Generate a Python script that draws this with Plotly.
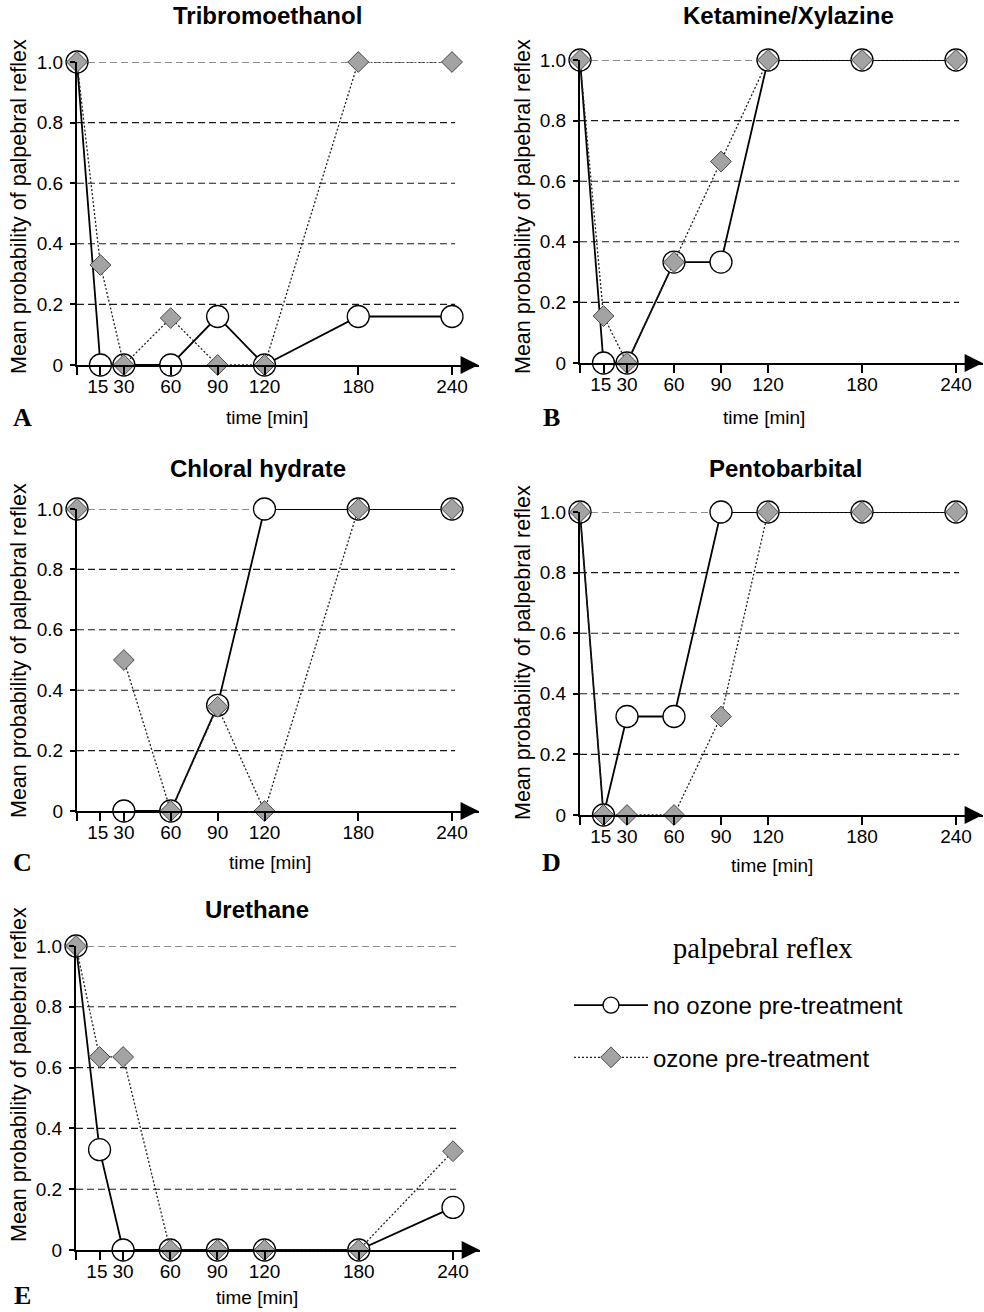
import plotly.graph_objects as go

# ---------------- data ----------------
time_min = [0, 15, 30, 60, 90, 120, 180, 240]
tick_labels_x = ["", "15\u00a0", "30", "60", "90", "120", "180", "240"]
y_ticks = [0, 0.2, 0.4, 0.6, 0.8, 1.0]
y_tick_labels = ["0", "0.2", "0.4", "0.6", "0.8", "1.0"]

tribromo_no = [1.0, 0.0, 0.0, 0.0, 0.16, 0.0, 0.16, 0.16]
tribromo_oz = [1.0, 0.33, 0.0, 0.155, 0.0, 0.0, 1.0, 1.0]
ketamine_no = [1.0, 0.0, 0.0, 0.333, 0.333, 1.0, 1.0, 1.0]
ketamine_oz = [1.0, 0.155, 0.0, 0.333, 0.665, 1.0, 1.0, 1.0]
chloral_no = [1.0, None, 0.0, 0.0, 0.35, 1.0, 1.0, 1.0]
chloral_oz = [1.0, None, 0.5, 0.0, 0.345, 0.0, 1.0, 1.0]
pento_no = [1.0, 0.0, 0.325, 0.325, 1.0, 1.0, 1.0, 1.0]
pento_oz = [1.0, 0.0, 0.0, 0.0, 0.325, 1.0, 1.0, 1.0]
urethane_no = [1.0, 0.33, 0.0, 0.0, 0.0, 0.0, 0.0, 0.14]
urethane_oz = [1.0, 0.635, 0.635, 0.0, 0.0, 0.0, 0.0, 0.325]

titles = ["Tribromoethanol", "Ketamine/Xylazine", "Chloral hydrate", "Pentobarbital", "Urethane"]
letters = ["A", "B", "C", "D", "E"]
series_no = [tribromo_no, ketamine_no, chloral_no, pento_no, urethane_no]
series_oz = [tribromo_oz, ketamine_oz, chloral_oz, pento_oz, urethane_oz]
name_no = "no ozone pre-treatment"
name_oz = "ozone pre-treatment"
y_title = "Mean probability of palpebral reflex"
x_title = "time [min]"
legend_title = "palpebral reflex"

# ---------------- layout geometry (pixels) ----------------
W, H = 984, 1312
X_MAX = 257
GRID_END = 242
# (x of y-axis, x of t=240, y of 0, y of 1.0)
geom = [
    (77, 452, 365, 62),
    (580, 956, 363, 60),
    (77, 452, 811, 509),
    (580, 956, 815, 512),
    (76, 453, 1250, 946),
]
title_pos = [(267, 15), (788, 15), (258, 468), (785, 468), (257, 909)]
xtitle_pos = [(267, 417), (764, 417), (270, 863), (772, 865), (257, 1297)]
ytitle_pos = [(19, 207), (523, 207), (19, 651), (523, 653), (19, 1075)]
letter_pos = [(22, 417), (551, 417), (22, 863), (551, 863), (22, 1295)]

FONT = "Liberation Sans, Arial, sans-serif"
SERIF = "Liberation Serif, Times New Roman, serif"


def px(p):
    return p / W


def py(p):
    return 1 - p / H


fig = go.Figure()
layout = dict(
    width=W, height=H,
    margin=dict(l=0, r=0, t=0, b=0),
    paper_bgcolor="white", plot_bgcolor="white",
    font=dict(family=FONT, color="black"),
    shapes=[], annotations=[],
)

for i in range(5):
    k = i + 1
    xs = "x" if k == 1 else f"x{k}"
    ys = "y" if k == 1 else f"y{k}"
    x0, x240, y0, y1 = geom[i]
    xend = x0 + (x240 - x0) * X_MAX / 240.0
    layout[f"xaxis{'' if k == 1 else k}"] = dict(
        domain=[px(x0), px(xend)], range=[0, X_MAX], anchor=ys,
        showline=True, linecolor="black", linewidth=2,
        ticks="outside", ticklen=8, tickwidth=1.5, tickcolor="black",
        tickvals=time_min, ticktext=tick_labels_x, tickangle=0,
        ticklabelstandoff=-5,
        tickfont=dict(size=19, family=FONT, color="black"),
        showgrid=False, zeroline=False, fixedrange=True, automargin=False,
    )
    layout[f"yaxis{'' if k == 1 else k}"] = dict(
        domain=[py(y0), py(y1)], range=[0, 1], anchor=xs,
        showline=True, linecolor="black", linewidth=2,
        ticks="outside", ticklen=5, tickwidth=1.5, tickcolor="black",
        tickvals=y_ticks, ticktext=y_tick_labels, tickangle=0,
        ticklabelstandoff=3,
        tickfont=dict(size=19, family=FONT, color="black"),
        showgrid=False, zeroline=False, fixedrange=True, automargin=False,
    )

    for v in y_ticks[1:]:
        layout["shapes"].append(dict(
            type="line", xref=xs, yref=ys, x0=0, x1=GRID_END, y0=v, y1=v,
            line=dict(color="#1a1a1a", width=1.1, dash="7px,4px"), layer="below",
        ))

    # arrow head at the end of the x axis
    layout["annotations"].append(dict(
        x=X_MAX, y=0, xref=xs, yref=ys, ax=X_MAX - 12, ay=0, axref=xs, ayref=ys,
        text="", showarrow=True, arrowhead=2, arrowsize=1.8, arrowwidth=2,
        arrowcolor="black", standoff=0,
    ))

    fig.add_trace(go.Scatter(
        x=time_min, y=series_no[i], xaxis=xs, yaxis=ys, name=name_no,
        mode="lines+markers", cliponaxis=False, connectgaps=False,
        line=dict(color="black", width=1.8),
        marker=dict(symbol="circle", size=22, color="white", line=dict(color="black", width=1.3)),
        showlegend=(i == 0), legendgroup="no",
    ))
    fig.add_trace(go.Scatter(
        x=time_min, y=series_oz[i], xaxis=xs, yaxis=ys, name=name_oz,
        mode="lines+markers", cliponaxis=False, connectgaps=False,
        line=dict(color="#222222", width=1.3, dash="2px,2px"),
        marker=dict(symbol="diamond", size=16, color="#a3a3a3", line=dict(color="#4a4a4a", width=1)),
        showlegend=(i == 0), legendgroup="oz",
    ))

    tx, ty = title_pos[i]
    layout["annotations"].append(dict(
        x=px(tx), y=py(ty), xref="paper", yref="paper", xanchor="center", yanchor="middle",
        text=f"<b>{titles[i]}</b>", showarrow=False, font=dict(size=24, family=FONT, color="black"),
    ))
    tx, ty = xtitle_pos[i]
    layout["annotations"].append(dict(
        x=px(tx), y=py(ty), xref="paper", yref="paper", xanchor="center", yanchor="middle",
        text=x_title, showarrow=False, font=dict(size=19, family=FONT, color="black"),
    ))
    tx, ty = ytitle_pos[i]
    layout["annotations"].append(dict(
        x=px(tx), y=py(ty), xref="paper", yref="paper", xanchor="center", yanchor="middle",
        text=y_title, textangle=-90, showarrow=False, font=dict(size=21.5, family=FONT, color="black"),
    ))
    tx, ty = letter_pos[i]
    layout["annotations"].append(dict(
        x=px(tx), y=py(ty), xref="paper", yref="paper", xanchor="center", yanchor="middle",
        text=f"<b>{letters[i]}</b>", showarrow=False, font=dict(size=26, family=SERIF, color="black"),
    ))

# legend heading
layout["annotations"].append(dict(
    x=px(763), y=py(948), xref="paper", yref="paper", xanchor="center", yanchor="middle",
    text=legend_title, showarrow=False, font=dict(size=28.5, family=SERIF, color="black"),
))

layout["legend"] = dict(
    x=px(569), y=py(983), xanchor="left", yanchor="top",
    font=dict(family=FONT, size=24, color="black"),
    traceorder="grouped", tracegroupgap=18, itemwidth=74,
    bgcolor="rgba(0,0,0,0)",
)

fig.update_layout(**layout)
fig.write_html(
    "out.html",
    config={"displayModeBar": False},
    post_script="document.body.style.margin='0px';document.documentElement.style.overflow='hidden';",
)
